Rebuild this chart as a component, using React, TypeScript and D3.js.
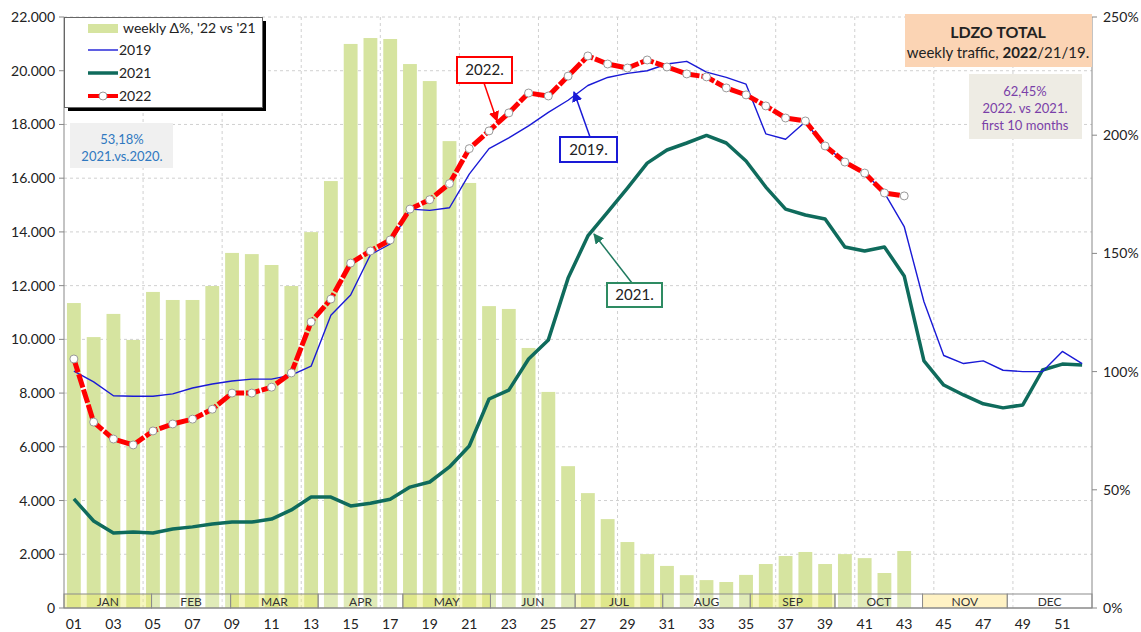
import * as d3 from "d3";

const weekLabels = [
  "01", "02", "03", "04", "05", "06", "07", "08", "09", "10", "11", "12", "13",
  "14", "15", "16", "17", "18", "19", "20", "21", "22", "23", "24", "25", "26",
  "27", "28", "29", "30", "31", "32", "33", "34", "35", "36", "37", "38", "39",
  "40", "41", "42", "43", "44", "45", "46", "47", "48", "49", "50", "51", "52",
];
const monthNames = ["JAN", "FEB", "MAR", "APR", "MAY", "JUN", "JUL", "AUG", "SEP", "OCT", "NOV", "DEC"];
const monthDays = [31, 28, 31, 30, 31, 30, 31, 31, 30, 31, 30, 31];

// weekly change 2022 vs 2021, in % (right axis)
const deltaPct = [
  129, 114.6, 124.4, 113.4, 133.7, 130.3, 130.3, 136.2, 150.2, 149.7, 145.1, 136.2, 159,
  180.6, 238.6, 241.1, 240.7, 230.1, 222.9, 197.5, 179.8, 127.7, 126.5, 110, 91.4, 60,
  48.6, 37.6, 27.9, 22.8, 17.8, 13.9, 11.8, 11, 14, 18.6, 22, 23.7, 18.6,
  22.8, 21.1, 14.8, 24.1,
];
// weekly flights
const traffic2019 = [
  8820, 8420, 7900, 7880, 7880, 7970, 8190, 8340, 8450, 8520, 8520, 8670, 9000,
  10900, 11650, 13150, 13550, 14850, 14800, 14900, 16150, 17100, 17500, 17950, 18450, 18900,
  19450, 19750, 19900, 20000, 20250, 20350, 19950, 19750, 19500, 17650, 17450, 18100, 17150,
  16650, 16200, 15450, 14200, 11400, 9400, 9100, 9200, 8850, 8800, 8800, 9550, 9100,
];
const traffic2021 = [
  4060, 3240, 2790, 2830, 2790, 2940, 3020, 3130, 3200, 3200, 3310, 3650, 4130,
  4130, 3800, 3900, 4050, 4500, 4690, 5250, 6030, 7780, 8110, 9270, 9980, 12280,
  13850, 14740, 15630, 16560, 17050, 17310, 17590, 17310, 16640, 15670, 14850, 14630, 14480,
  13440, 13290, 13440, 12360, 9200, 8300, 7930, 7600, 7450, 7560, 8860, 9080, 9050,
];
const traffic2022 = [
  9270, 6920, 6290, 6070, 6590, 6850, 7030, 7400, 8000, 8000, 8220, 8750, 10650,
  11500, 12840, 13290, 13700, 14850, 15200, 15800, 17100, 17760, 18430, 19170, 19060, 19800,
  20550, 20250, 20100, 20400, 20140, 19880, 19770, 19360, 19100, 18690, 18240, 18130, 17200,
  16600, 16190, 15450, 15340,
];
const leftTicks = [0, 2000, 4000, 6000, 8000, 10000, 12000, 14000, 16000, 18000, 20000, 22000];
const rightTicks = [0, 50, 100, 150, 200, 250];

const FONT = "Lato, 'Open Sans', sans-serif";
const fmt = d3.formatLocale({ decimal: ",", thousands: ".", grouping: [3], currency: ["", ""] }).format(",");

export default function App() {
  const W = 1141;
  const H = 632;
  const left = 64, right = 1092, top = 17, bottom = 608;

  const x = d3.scaleBand().domain(weekLabels).range([left, right]).paddingInner(0.3).paddingOuter(0.15);
  const cx = (i: number) => (x(weekLabels[i]) as number) + x.bandwidth() / 2;
  const y = d3.scaleLinear().domain([0, 22000]).range([bottom, top]);
  const yp = d3.scaleLinear().domain([0, 250]).range([bottom, top]);
  const xm = d3.scaleLinear().domain([0, 52]).range([left, right]).clamp(true);

  const line = d3.line<number>().x((_, i) => cx(i)).y((d) => y(d));

  // month boxes along the bottom
  let acc = 0;
  const months = monthNames.map((m, i) => {
    const s = acc / 7;
    acc += monthDays[i];
    return { m, x0: xm(s), x1: xm(acc / 7), i };
  });

  const step = x.step();
  const vgrid = d3.range(4, 52, 4).map((k) => left + x.paddingOuter() * step + k * step - (x.paddingInner() * step) / 2);

  return (
    <svg width={W} height={H} style={{ position: "absolute", left: 0, top: 0, background: "#fff" }} fontFamily={FONT}>
      <defs>
        {[["red", "#ff0000"], ["blue", "#1a1ad6"], ["green", "#1f7a5f"]].map(([id, c]) => (
          <marker key={id} id={`arr-${id}`} viewBox="0 0 10 10" refX="9" refY="5" markerWidth="7" markerHeight="7" orient="auto-start-reverse">
            <path d="M0,0 L10,5 L0,10 z" fill={c} />
          </marker>
        ))}
      </defs>

      {/* grid */}
      {leftTicks.slice(1).map((t) => (
        <line key={`h${t}`} x1={left} x2={right} y1={y(t)} y2={y(t)} stroke="#d0d0d0" strokeDasharray="3,3" />
      ))}
      {vgrid.map((vx, k) => (
        <line key={`v${k}`} x1={vx} x2={vx} y1={top} y2={bottom} stroke="#d0d0d0" strokeDasharray="3,3" />
      ))}

      {/* bars */}
      {deltaPct.map((d, i) => (
        <rect key={`b${i}`} x={x(weekLabels[i])} y={yp(d)} width={x.bandwidth()} height={bottom - yp(d)} fill="#d6e4a0" />
      ))}

      {/* months */}
      {months.map((mo) => {
        const fill = mo.m === "NOV" ? "#fff2c4" : mo.i % 2 === 0 ? "#ecec70" : "#ffffff";
        const op = mo.m === "NOV" ? 1 : mo.i % 2 === 0 ? 0.45 : 0.25;
        return (
          <g key={mo.m}>
            <rect x={mo.x0} y={594} width={mo.x1 - mo.x0} height={14} fill={fill} fillOpacity={op} stroke="#8c8c8c" strokeWidth={1} />
            <text x={(mo.x0 + mo.x1) / 2} y={605.5} textAnchor="middle" fontSize={12} fill="#333">{mo.m}</text>
          </g>
        );
      })}

      {/* axes */}
      <line x1={left} x2={left} y1={top} y2={bottom} stroke="#888" />
      <line x1={right} x2={right} y1={top} y2={bottom} stroke="#888" />
      <line x1={left} x2={right} y1={bottom} y2={bottom} stroke="#888" />
      {leftTicks.map((t) => (
        <g key={`lt${t}`}>
          <line x1={left - 5} x2={left} y1={y(t)} y2={y(t)} stroke="#888" />
          <text x={left - 9} y={y(t) + 5} textAnchor="end" fontSize={14} fill="#222">{fmt(t)}</text>
        </g>
      ))}
      {rightTicks.map((t) => (
        <g key={`rt${t}`}>
          <line x1={right} x2={right + 5} y1={yp(t)} y2={yp(t)} stroke="#888" />
          <text x={right + 11} y={yp(t) + 5} fontSize={14} fill="#222">{t}%</text>
        </g>
      ))}
      {weekLabels.map((w, i) =>
        i % 2 === 0 ? (
          <text key={`x${w}`} x={cx(i)} y={629} textAnchor="middle" fontSize={14} fill="#222">{w}</text>
        ) : null
      )}

      {/* lines */}
      <path d={line(traffic2021) ?? ""} fill="none" stroke="#0f6b5c" strokeWidth={3.5} strokeLinejoin="round" />
      <path d={line(traffic2019) ?? ""} fill="none" stroke="#1a1ad6" strokeWidth={1.4} strokeLinejoin="round" />
      <path d={line(traffic2022) ?? ""} fill="none" stroke="#ff0000" strokeWidth={5} strokeDasharray="14,2" strokeLinejoin="round" />
      {traffic2022.map((d, i) => (
        <circle key={`m${i}`} cx={cx(i)} cy={y(d)} r={4} fill="#fff" stroke="#999" strokeWidth={1} />
      ))}

      {/* legend */}
      <rect x={68} y={21} width={198} height={90} fill="#000" />
      <rect x={64.5} y={17.5} width={198} height={90} fill="#fff" stroke="#666" />
      <rect x={88} y={24} width={30} height={9} fill="#d6e4a0" />
      <text x={123} y={33} fontSize={14} fill="#222">weekly Δ%, '22 vs '21</text>
      <line x1={88} x2={118} y1={50} y2={50} stroke="#1a1ad6" strokeWidth={1.4} />
      <text x={119} y={55} fontSize={14} fill="#222">2019</text>
      <line x1={88} x2={118} y1={73} y2={73} stroke="#0f6b5c" strokeWidth={3.5} />
      <text x={119} y={78} fontSize={14} fill="#222">2021</text>
      <line x1={88} x2={118} y1={96} y2={96} stroke="#ff0000" strokeWidth={4} />
      <circle cx={103} cy={96} r={4} fill="#fff" stroke="#999" />
      <text x={119} y={101} fontSize={14} fill="#222">2022</text>

      {/* title */}
      <rect x={905} y={14} width={187} height={53} fill="#fbd4b4" />
      <text x={998} y={38} textAnchor="middle" fontSize={16} fontWeight="bold" fill="#222">LDZO TOTAL</text>
      <text x={998} y={58} textAnchor="middle" fontSize={15} fill="#222">
        weekly traffic, <tspan fontWeight="bold">2022</tspan>/21/19.
      </text>

      {/* notes */}
      <rect x={969} y={74} width={113} height={65} fill="#eeece4" />
      <g fontSize={13} fill="#7a3fa8" textAnchor="middle">
        <text x={1025} y={96}>62,45%</text>
        <text x={1025} y={113}>2022. vs  2021.</text>
        <text x={1025} y={130}>first 10 months</text>
      </g>
      <rect x={70} y={123} width={103} height={45} fill="#f0f0f0" />
      <g fontSize={13} fill="#2f78c0" textAnchor="middle">
        <text x={122} y={144}>53,18%</text>
        <text x={122} y={161}>2021.vs.2020.</text>
      </g>

      {/* callouts */}
      <line x1={484} y1={83} x2={497} y2={121} stroke="#ff0000" strokeWidth={1.5} markerEnd="url(#arr-red)" />
      <rect x={457} y={57} width={55} height={26} fill="#fff" stroke="#ff0000" strokeWidth={2} />
      <text x={484.5} y={75} textAnchor="middle" fontSize={15} fill="#222">2022.</text>

      <line x1={590} y1={137} x2={574} y2={92} stroke="#1a1ad6" strokeWidth={1.5} markerEnd="url(#arr-blue)" />
      <rect x={560} y={137} width={57} height={25} fill="#fff" stroke="#1a1ad6" strokeWidth={2} />
      <text x={588.5} y={155} textAnchor="middle" fontSize={15} fill="#222">2019.</text>

      <line x1={632} y1={283} x2={594} y2={234} stroke="#1f7a5f" strokeWidth={1.5} markerEnd="url(#arr-green)" />
      <rect x={607} y={283} width={55} height={24} fill="#fff" stroke="#2e8b62" strokeWidth={2} />
      <text x={634.5} y={300} textAnchor="middle" fontSize={15} fill="#222">2021.</text>
    </svg>
  );
}
